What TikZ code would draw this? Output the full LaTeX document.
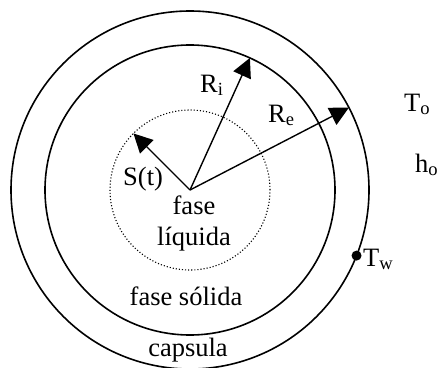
\documentclass[tikz,border=0pt]{standalone}
\usepackage{fontspec}
\setmainfont{Liberation Serif}
\usetikzlibrary{arrows.meta,calc}
\tikzset{
  ringln/.style={line width=1.6pt},
  frontln/.style={line width=1.1pt, dotted},
  radiusln/.style={-{Triangle[length=19pt,width=19pt]}, line width=1.4pt},
  lbl/.style={font=\fontsize{26.5}{30}\selectfont, inner sep=0pt},
}
\begin{document}
\begin{tikzpicture}[x=1pt,y=-1pt]
  \useasboundingbox (0,0) rectangle (439,367);
  \coordinate (ctr) at (190,190);
  % capsule wall and the solid/liquid front
  \draw[ringln] (ctr) circle (179pt);
  \draw[ringln] (ctr) circle (145pt);
  \draw[frontln] (ctr) circle (80pt);
  % radii
  \coordinate (stip) at ($(ctr)+(135:80pt)$);
  \coordinate (ritip) at ($(ctr)+(65.6:145pt)$);
  \coordinate (retip) at ($(ctr)+(27.4:179pt)$);
  \draw[radiusln] (ctr) -- (stip);
  \draw[radiusln] (ctr) -- (ritip);
  \draw[radiusln] (ctr) -- (retip);
  % wall temperature probe
  \coordinate (twdot) at ($(ctr)+(-21.5:179pt)$);
  \fill (twdot) circle (5pt);
  \node[lbl, anchor=base west] (tw) at (363,266) {T\textsubscript{w}};
  % labels
  \node[lbl, anchor=base west] (ri) at (200,92) {R\textsubscript{i}};
  \node[lbl, anchor=base west] (re) at (268,122) {R\textsubscript{e}};
  \node[lbl, anchor=base west] (st) at (123,185) {S(t)};
  \node[lbl, anchor=base west] (to) at (404,111) {T\textsubscript{o}};
  \node[lbl, anchor=base west] (ho) at (415,172) {h\textsubscript{o}};
  \node[lbl, anchor=base] (liq1) at (194,214) {fase};
  \node[lbl, anchor=base] (liq2) at (194,245) {líquida};
  \node[lbl, anchor=base] (sol) at (186,305) {fase sólida};
  \node[lbl, anchor=base] (cap) at (188,356) {capsula};
\end{tikzpicture}
\end{document}
